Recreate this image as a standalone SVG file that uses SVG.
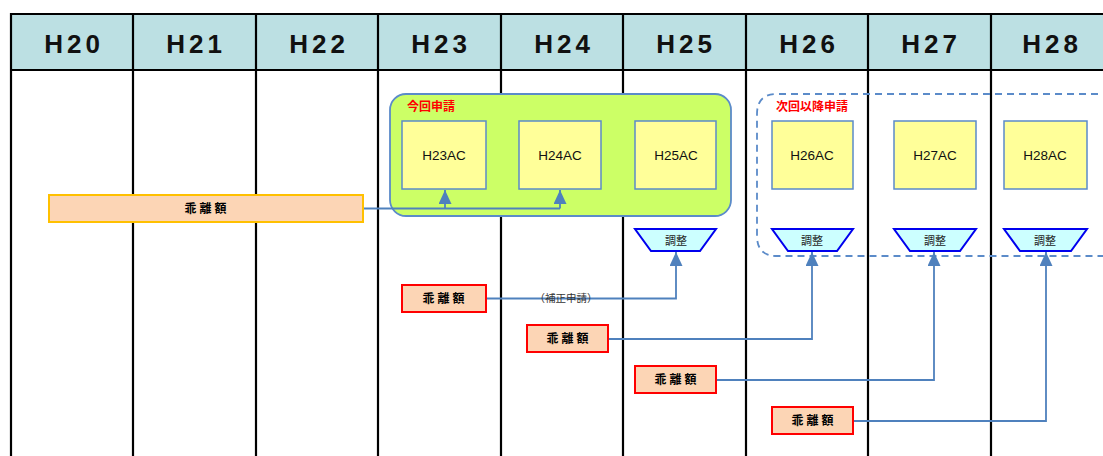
<svg xmlns="http://www.w3.org/2000/svg" width="1103" height="456" viewBox="0 0 1103 456">
<style>
.hdr{font-family:"Liberation Sans","Noto Sans CJK JP",sans-serif;font-size:26px;font-weight:bold;fill:#111;text-anchor:middle;letter-spacing:4px}
.grid{stroke:#000;stroke-width:2.2;fill:none}
.ac{fill:#FFFF99;stroke:#5B8BC9;stroke-width:1.5}
.act{font-family:"Liberation Sans","Noto Sans CJK JP",sans-serif;font-size:13.5px;fill:#111;text-anchor:middle}
.trap{fill:#CCFFFF;stroke:#0000EE;stroke-width:2}
.trt{font-family:"Noto Sans CJK JP",sans-serif;font-size:11px;fill:#222;text-anchor:middle}
.kai{fill:#FCD5B5;stroke:#FF0000;stroke-width:2}
.kait{font-family:"Noto Sans CJK JP",sans-serif;font-size:12px;font-weight:bold;fill:#000;text-anchor:middle;letter-spacing:3px}
.grp{font-family:"Noto Sans CJK JP",sans-serif;font-size:12px;font-weight:bold;fill:#FF0000}
.conn{stroke:#4F81BD;stroke-width:1.8;fill:none}
</style>
<defs>
<marker id="ah" markerWidth="14" markerHeight="13" refX="14" refY="6.5" orient="auto" markerUnits="userSpaceOnUse" viewBox="0 0 14 13">
<path d="M0,0 L14,6.5 L0,13 Z" fill="#4F81BD"/>
</marker>
</defs>
<rect width="1103" height="456" fill="#fff"/>
<g id="header">
<rect x="11" y="14" width="1092" height="56" fill="#BCE0E3"/>
<line class="grid" x1="11" y1="14" x2="1103" y2="14"/>
<line class="grid" x1="11" y1="70" x2="1103" y2="70"/>
<text class="hdr" x="74" y="53">H20</text>
<text class="hdr" x="196" y="53">H21</text>
<text class="hdr" x="319" y="53">H22</text>
<text class="hdr" x="441" y="53">H23</text>
<text class="hdr" x="564" y="53">H24</text>
<text class="hdr" x="686" y="53">H25</text>
<text class="hdr" x="809" y="53">H26</text>
<text class="hdr" x="931" y="53">H27</text>
<text class="hdr" x="1052" y="53">H28</text>
</g>
<g id="gridlines">
<line class="grid" x1="11" y1="13" x2="11" y2="456"/>
<line class="grid" x1="133" y1="13" x2="133" y2="456"/>
<line class="grid" x1="256" y1="13" x2="256" y2="456"/>
<line class="grid" x1="378" y1="13" x2="378" y2="456"/>
<line class="grid" x1="501" y1="13" x2="501" y2="456"/>
<line class="grid" x1="623" y1="13" x2="623" y2="456"/>
<line class="grid" x1="746" y1="13" x2="746" y2="456"/>
<line class="grid" x1="868" y1="13" x2="868" y2="456"/>
<line class="grid" x1="991" y1="13" x2="991" y2="456"/>
</g>
<g id="current-group">
<rect x="390" y="94" width="341" height="122" rx="16" fill="#CCFF66" stroke="#5B8BC9" stroke-width="1.8"/>
<text class="grp" x="407" y="111">今回申請</text>
</g>
<g id="next-group">
<path d="M1110,94 H777 Q757,94 757,114 V236 Q757,256 777,256 H1110" fill="none" stroke="#5B8BC9" stroke-width="1.8" stroke-dasharray="7,5"/>
<text class="grp" x="776" y="111">次回以降申請</text>
</g>
<g id="H23AC"><rect class="ac" x="402" y="121" width="84" height="68"/><text class="act" x="444" y="160">H23AC</text></g>
<g id="H24AC"><rect class="ac" x="519" y="121" width="82" height="68"/><text class="act" x="560" y="160">H24AC</text></g>
<g id="H25AC"><rect class="ac" x="635" y="121" width="81" height="68"/><text class="act" x="676" y="160">H25AC</text></g>
<g id="H26AC"><rect class="ac" x="772" y="121" width="81" height="68"/><text class="act" x="812" y="160">H26AC</text></g>
<g id="H27AC"><rect class="ac" x="894" y="121" width="82" height="68"/><text class="act" x="935" y="160">H27AC</text></g>
<g id="H28AC"><rect class="ac" x="1004" y="121" width="83" height="68"/><text class="act" x="1045" y="160">H28AC</text></g>
<g id="adj25"><path class="trap" d="M635,229 H716 L700,251 H651 Z"/><text class="trt" x="676" y="245">調整</text></g>
<g id="adj26"><path class="trap" d="M772,229 H853 L837,251 H788 Z"/><text class="trt" x="812" y="245">調整</text></g>
<g id="adj27"><path class="trap" d="M894,229 H976 L960,251 H910 Z"/><text class="trt" x="935" y="245">調整</text></g>
<g id="adj28"><path class="trap" d="M1004,229 H1087 L1071,251 H1020 Z"/><text class="trt" x="1045" y="245">調整</text></g>
<g id="connectors">
<path class="conn" d="M363,208.5 H560"/>
<path class="conn" d="M445,208.5 V190" marker-end="url(#ah)"/>
<path class="conn" d="M560,208.5 V190" marker-end="url(#ah)"/>
<path class="conn" d="M486,298.5 H676 V252" marker-end="url(#ah)"/>
<path class="conn" d="M608,339 H812 V252" marker-end="url(#ah)"/>
<path class="conn" d="M716,380 H934 V252" marker-end="url(#ah)"/>
<path class="conn" d="M853,421 H1046 V252" marker-end="url(#ah)"/>
<text x="566" y="302" font-family="Noto Sans CJK JP,sans-serif" font-size="10.5" fill="#333" text-anchor="middle">（補正申請）</text>
</g>
<g id="diff-main"><rect x="49" y="195" width="314" height="27" fill="#FCD5B5" stroke="#FFC000" stroke-width="2"/><text class="kait" x="207" y="213">乖離額</text></g>
<g id="diff1"><rect class="kai" x="402" y="285" width="84" height="27"/><text class="kait" x="445" y="303">乖離額</text></g>
<g id="diff2"><rect class="kai" x="527" y="325" width="81" height="27"/><text class="kait" x="569" y="343">乖離額</text></g>
<g id="diff3"><rect class="kai" x="635" y="366" width="81" height="27"/><text class="kait" x="677" y="384">乖離額</text></g>
<g id="diff4"><rect class="kai" x="772" y="407" width="81" height="27"/><text class="kait" x="814" y="425">乖離額</text></g>
</svg>
